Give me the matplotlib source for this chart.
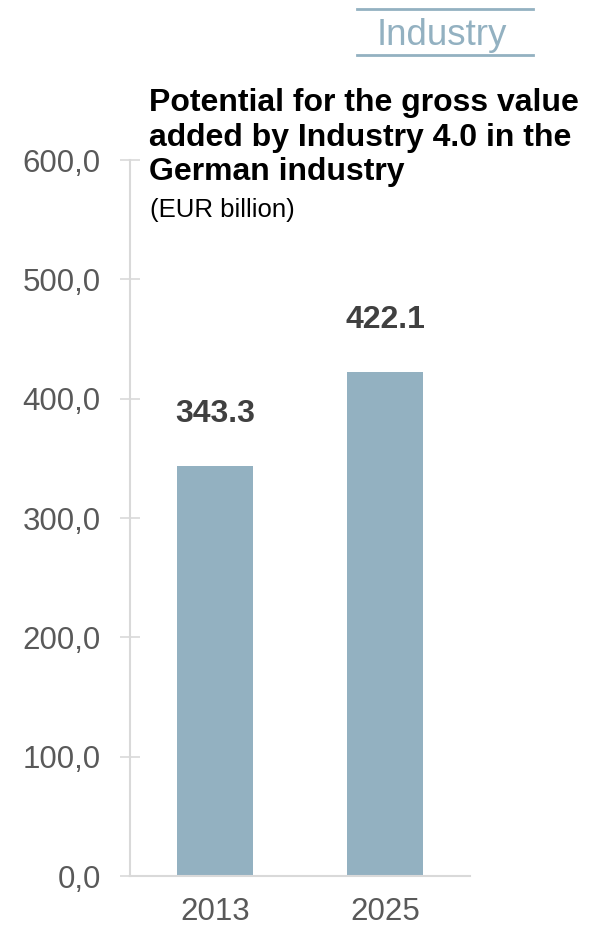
import matplotlib
matplotlib.use("Agg")
import matplotlib.pyplot as plt
from matplotlib.lines import Line2D

plt.rcParams['font.family'] = ['Liberation Sans', 'DejaVu Sans']

years = ['2013', '2025']
values = [343.3, 422.1]
y_ticks = [0, 100, 200, 300, 400, 500, 600]

bar_color = '#93b1c1'
grid_gray = '#d9d9d9'
W, H = 595, 927

fig = plt.figure(figsize=(W / 100, H / 100), dpi=100)
ax = fig.add_axes([130 / W, 1 - 876 / H, 340 / W, 716 / H])

x = range(len(years))
ax.bar(x, values, width=0.447, color=bar_color)
for xi, v in zip(x, values):
    ax.text(xi, v + 31, f'{v:.1f}', ha='center', va='bottom',
            fontsize=23, fontweight='bold', color='#404040')

ax.set_xlim(-0.5, 1.5)
ax.set_ylim(0, 600)
ax.set_xticks(list(x))
ax.set_xticklabels(years)
ax.set_yticks(y_ticks)
ax.set_yticklabels([f'{t:.1f}'.replace('.', ',') for t in y_ticks])

for side in ['top', 'right']:
    ax.spines[side].set_visible(False)
for side in ['left', 'bottom']:
    ax.spines[side].set_color(grid_gray)
    ax.spines[side].set_linewidth(1.5)

ax.tick_params(axis='y', direction='inout', length=14, width=1.2,
               color=grid_gray, pad=14, labelsize=22.5, labelcolor='#595959')
ax.tick_params(axis='x', length=0, pad=15, labelsize=22.5, labelcolor='#595959')

# header tag
fig.add_artist(Line2D([357 / W, 533 / W], [1 - 9 / H, 1 - 9 / H],
                      color=bar_color, lw=2))
fig.add_artist(Line2D([357 / W, 533 / W], [1 - 55 / H, 1 - 55 / H],
                      color=bar_color, lw=2))
fig.text(442 / W, 1 - 45 / H, 'Industry', ha='center', va='baseline',
         fontsize=26.5, color=bar_color)

fig.text(149 / W, 1 - 88 / H,
         'Potential for the gross value\nadded by Industry 4.0 in the\nGerman industry',
         ha='left', va='top', fontsize=23, fontweight='bold', color='black',
         linespacing=1.2)
fig.text(150 / W, 1 - 217 / H, '(EUR billion)', ha='left', va='baseline',
         fontsize=18.5, color='black')

fig.savefig('out.png', dpi=100)
